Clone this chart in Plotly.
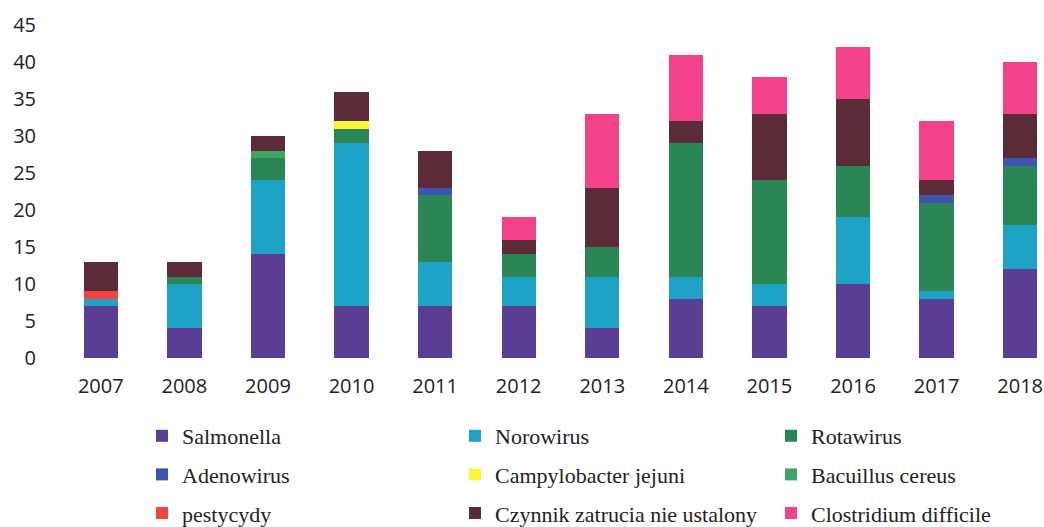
import plotly.graph_objects as go

years = ["2007", "2008", "2009", "2010", "2011", "2012", "2013", "2014", "2015", "2016", "2017", "2018"]

salmonella   = [7, 4, 14, 7, 7, 7, 4, 8, 7, 10, 8, 12]
norowirus    = [1, 6, 10, 22, 6, 4, 7, 3, 3, 9, 1, 6]
rotawirus    = [0, 1, 3, 2, 9, 3, 4, 18, 14, 7, 12, 8]
adenowirus   = [0, 0, 0, 0, 1, 0, 0, 0, 0, 0, 1, 1]
campylobacter = [0, 0, 0, 1, 0, 0, 0, 0, 0, 0, 0, 0]
bacillus     = [0, 0, 1, 0, 0, 0, 0, 0, 0, 0, 0, 0]
pestycydy    = [1, 0, 0, 0, 0, 0, 0, 0, 0, 0, 0, 0]
czynnik      = [4, 2, 2, 4, 5, 2, 8, 3, 9, 9, 2, 6]
clostridium  = [0, 0, 0, 0, 0, 3, 10, 9, 5, 7, 8, 7]

series = [
    ("Salmonella", salmonella, "#5a3d94", "legend"),
    ("Norowirus", norowirus, "#1ea3c6", "legend2"),
    ("Rotawirus", rotawirus, "#2a8654", "legend3"),
    ("Adenowirus", adenowirus, "#3e55b0", "legend"),
    ("Campylobacter jejuni", campylobacter, "#fbf53c", "legend2"),
    ("Bacuillus cereus", bacillus, "#3fa566", "legend3"),
    ("pestycydy", pestycydy, "#f2443f", "legend"),
    ("Czynnik zatrucia nie ustalony", czynnik, "#5b2c38", "legend2"),
    ("Clostridium difficile", clostridium, "#f3418a", "legend3"),
]

fig = go.Figure()
for i, (name, vals, color, leg) in enumerate(series):
    fig.add_trace(go.Bar(
        x=years, y=vals, name=name,
        marker=dict(color=color, line=dict(width=0)),
        legend=leg, legendgroup=name,
    ))

W, H = 1044, 527
legfont = dict(family="Liberation Serif", size=22, color="#222222")
legcommon = dict(
    orientation="v", xref="container", yref="container",
    yanchor="top", xanchor="left", font=legfont,
    tracegroupgap=7, itemwidth=30, bgcolor="rgba(0,0,0,0)",
)
fig.update_layout(
    width=W, height=H,
    margin=dict(l=59, r=0, t=25, b=169, autoexpand=False),
    plot_bgcolor="white", paper_bgcolor="white",
    barmode="stack", bargap=0.59,
    font=dict(family="Open Sans", size=20, color="#222222"),
    xaxis=dict(type="category", range=[-0.5, 11.285], showline=False, showgrid=False,
               ticks="", tickfont=dict(size=20), ticklabelstandoff=14, automargin=False),
    yaxis=dict(range=[0, 45], dtick=5, showline=False, showgrid=False,
               zeroline=False, ticks="", tickfont=dict(size=20), ticklabelstandoff=22,
               automargin=False),
    legend=dict(x=142/W, y=1 - 415/H, **legcommon),
    legend2=dict(x=455/W, y=1 - 415/H, **legcommon),
    legend3=dict(x=771/W, y=1 - 415/H, **legcommon),
)

fig.write_html(
    "out.html",
    config={"displayModeBar": False},
    post_script="document.body.style.margin='0';document.body.style.overflow='hidden';",
)
